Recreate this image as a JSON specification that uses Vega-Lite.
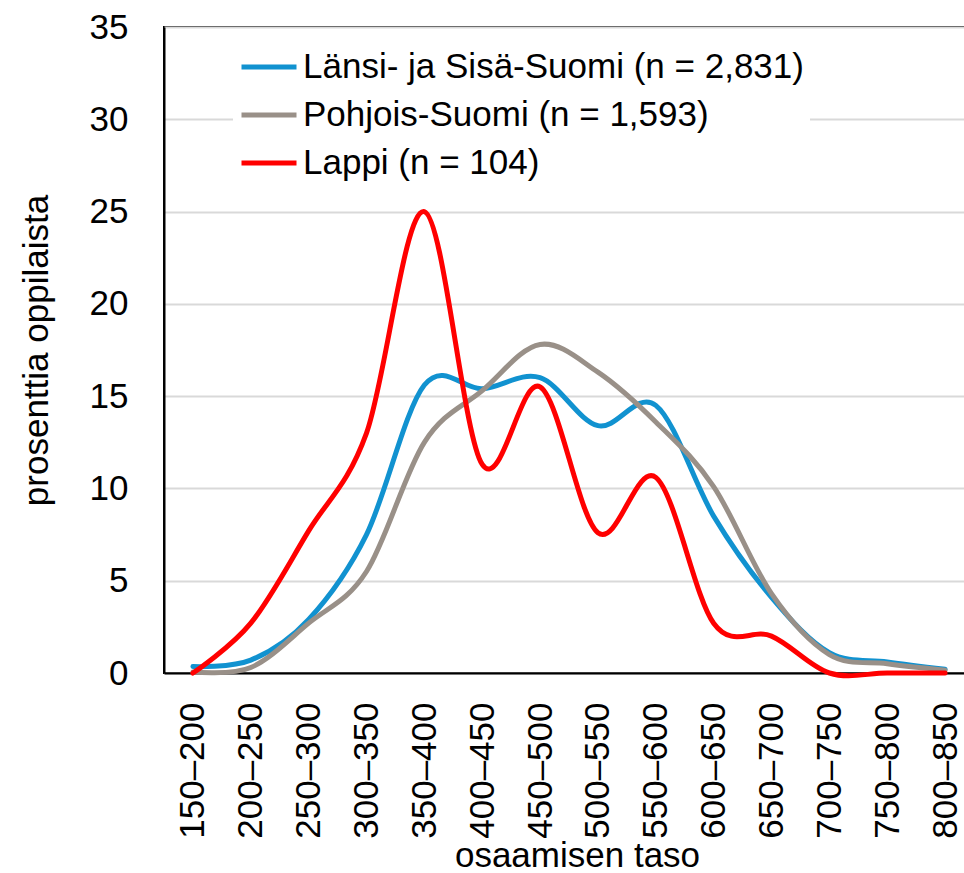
{
  "$schema": "https://vega.github.io/schema/vega-lite/v6.json",
  "autosize": {"type": "none"},
  "padding": {"left": 164, "top": 27, "right": 0, "bottom": 200},
  "width": 810,
  "height": 646,
  "background": "white",
  "config": {
    "font": "Liberation Sans",
    "view": {"stroke": "black", "strokeWidth": 2}
  },
  "data": {
    "values": [
      {"s": "Länsi- ja Sisä-Suomi (n = 2,831)", "b": "150–200", "v": 0.35},
      {"s": "Länsi- ja Sisä-Suomi (n = 2,831)", "b": "200–250", "v": 0.7},
      {"s": "Länsi- ja Sisä-Suomi (n = 2,831)", "b": "250–300", "v": 2.9},
      {"s": "Länsi- ja Sisä-Suomi (n = 2,831)", "b": "300–350", "v": 7.5},
      {"s": "Länsi- ja Sisä-Suomi (n = 2,831)", "b": "350–400", "v": 15.6},
      {"s": "Länsi- ja Sisä-Suomi (n = 2,831)", "b": "400–450", "v": 15.4},
      {"s": "Länsi- ja Sisä-Suomi (n = 2,831)", "b": "450–500", "v": 16.0},
      {"s": "Länsi- ja Sisä-Suomi (n = 2,831)", "b": "500–550", "v": 13.4},
      {"s": "Länsi- ja Sisä-Suomi (n = 2,831)", "b": "550–600", "v": 14.5},
      {"s": "Länsi- ja Sisä-Suomi (n = 2,831)", "b": "600–650", "v": 8.5},
      {"s": "Länsi- ja Sisä-Suomi (n = 2,831)", "b": "650–700", "v": 4.1},
      {"s": "Länsi- ja Sisä-Suomi (n = 2,831)", "b": "700–750", "v": 1.1},
      {"s": "Länsi- ja Sisä-Suomi (n = 2,831)", "b": "750–800", "v": 0.6},
      {"s": "Länsi- ja Sisä-Suomi (n = 2,831)", "b": "800–850", "v": 0.2},
      {"s": "Pohjois-Suomi (n = 1,593)", "b": "150–200", "v": 0.05},
      {"s": "Pohjois-Suomi (n = 1,593)", "b": "200–250", "v": 0.3},
      {"s": "Pohjois-Suomi (n = 1,593)", "b": "250–300", "v": 2.7},
      {"s": "Pohjois-Suomi (n = 1,593)", "b": "300–350", "v": 5.5},
      {"s": "Pohjois-Suomi (n = 1,593)", "b": "350–400", "v": 12.5},
      {"s": "Pohjois-Suomi (n = 1,593)", "b": "400–450", "v": 15.3},
      {"s": "Pohjois-Suomi (n = 1,593)", "b": "450–500", "v": 17.8},
      {"s": "Pohjois-Suomi (n = 1,593)", "b": "500–550", "v": 16.3},
      {"s": "Pohjois-Suomi (n = 1,593)", "b": "550–600", "v": 13.6},
      {"s": "Pohjois-Suomi (n = 1,593)", "b": "600–650", "v": 10.1},
      {"s": "Pohjois-Suomi (n = 1,593)", "b": "650–700", "v": 4.3},
      {"s": "Pohjois-Suomi (n = 1,593)", "b": "700–750", "v": 1.0},
      {"s": "Pohjois-Suomi (n = 1,593)", "b": "750–800", "v": 0.5},
      {"s": "Pohjois-Suomi (n = 1,593)", "b": "800–850", "v": 0.15},
      {"s": "Lappi (n = 104)", "b": "150–200", "v": 0},
      {"s": "Lappi (n = 104)", "b": "200–250", "v": 2.7},
      {"s": "Lappi (n = 104)", "b": "250–300", "v": 7.7},
      {"s": "Lappi (n = 104)", "b": "300–350", "v": 13.0},
      {"s": "Lappi (n = 104)", "b": "350–400", "v": 25.0},
      {"s": "Lappi (n = 104)", "b": "400–450", "v": 11.3},
      {"s": "Lappi (n = 104)", "b": "450–500", "v": 15.5},
      {"s": "Lappi (n = 104)", "b": "500–550", "v": 7.6},
      {"s": "Lappi (n = 104)", "b": "550–600", "v": 10.6},
      {"s": "Lappi (n = 104)", "b": "600–650", "v": 2.7},
      {"s": "Lappi (n = 104)", "b": "650–700", "v": 2.0},
      {"s": "Lappi (n = 104)", "b": "700–750", "v": 0},
      {"s": "Lappi (n = 104)", "b": "750–800", "v": 0},
      {"s": "Lappi (n = 104)", "b": "800–850", "v": 0}
    ]
  },
  "mark": {"type": "line", "interpolate": "cardinal", "strokeWidth": 5, "strokeCap": "round"},
  "encoding": {
    "x": {
      "field": "b", "type": "ordinal", "sort": null,
      "scale": {"type": "point", "padding": 0.5},
      "axis": {
        "title": "osaamisen taso", "titleFontSize": 35, "titleFontWeight": "normal", "titleColor": "black",
        "titlePadding": 0, "titleX": 413,
        "labelAngle": -90, "labelFontSize": 35, "labelColor": "black", "labelPadding": 29,
        "ticks": false, "domainColor": "black", "domainWidth": 2, "grid": false
      }
    },
    "y": {
      "field": "v", "type": "quantitative",
      "scale": {"domain": [0, 35], "nice": false},
      "axis": {
        "title": "prosenttia oppilaista", "titleFontSize": 35, "titleFontWeight": "normal", "titleColor": "black",
        "titlePadding": 35,
        "values": [0, 5, 10, 15, 20, 25, 30, 35],
        "labelFontSize": 35, "labelColor": "black", "labelPadding": 36,
        "ticks": false, "domainColor": "black", "domainWidth": 2,
        "gridColor": "#d9d9d9", "gridWidth": 2
      }
    },
    "color": {
      "field": "s", "type": "nominal", "sort": null,
      "scale": {
        "domain": ["Länsi- ja Sisä-Suomi (n = 2,831)", "Pohjois-Suomi (n = 1,593)", "Lappi (n = 104)"],
        "range": ["#1192d0", "#999088", "#ff0000"]
      },
      "legend": {
        "title": null, "orient": "none", "legendX": 69, "legendY": 4,
        "padding": 6, "fillColor": "white",
        "symbolType": "stroke", "symbolSize": 3025, "symbolStrokeWidth": 5,
        "labelFontSize": 35, "labelColor": "black", "labelOffset": 4,
        "rowPadding": -1, "labelLimit": 800
      }
    }
  }
}
